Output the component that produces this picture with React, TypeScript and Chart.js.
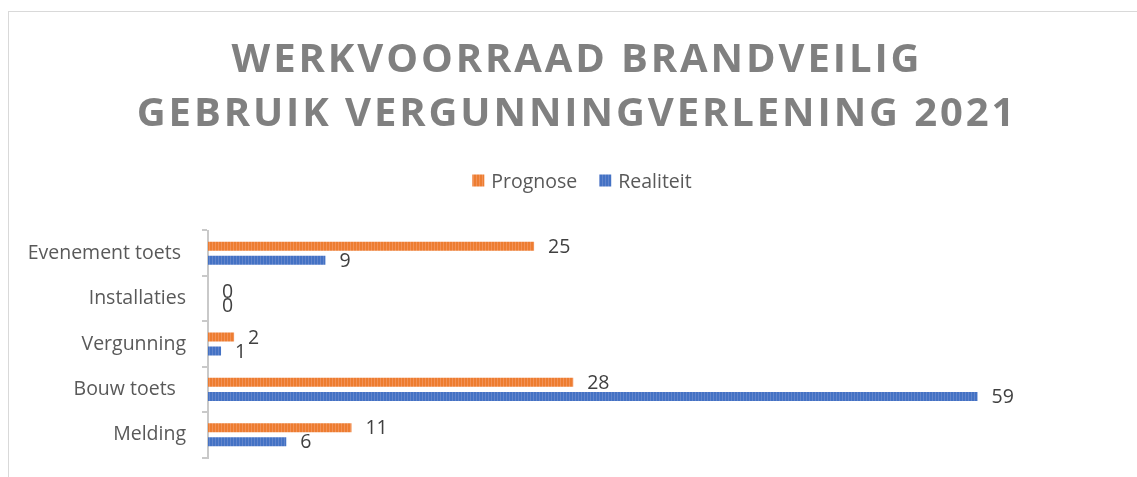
import React, { useEffect, useRef } from 'react';
import { Chart, registerables } from 'chart.js';

Chart.register(...registerables);

// ---- data ----
const titleLines = ['WERKVOORRAAD BRANDVEILIG', 'GEBRUIK VERGUNNINGVERLENING 2021'];
const categories = ['Evenement toets ', 'Installaties', 'Vergunning', 'Bouw toets  ', 'Melding'];
const seriesNames = ['Prognose', 'Realiteit'];
const prognose = [25, 0, 2, 28, 11];
const realiteit = [9, 0, 1, 59, 6];
const valueMin = 0;
const valueMax = 70;

// ---- styles ----
const FONT = '"Open Sans", "DejaVu Sans", sans-serif';
const ORANGE = '#ED7D31';
const ORANGE_LIGHT = '#F29258';
const BLUE = '#4472C4';
const BLUE_LIGHT = '#6285CC';

function makeStripe(base: string, light: string): CanvasPattern | string {
  const c = document.createElement('canvas');
  c.width = 3;
  c.height = 4;
  const g = c.getContext('2d');
  if (!g) return base;
  g.fillStyle = base;
  g.fillRect(0, 0, 3, 4);
  g.fillStyle = light;
  g.fillRect(2, 0, 1, 4);
  const p = g.createPattern(c, 'repeat');
  return p || base;
}

const headerPlugin = {
  id: 'headerAndLegend',
  afterDraw(chart: any) {
    const ctx: CanvasRenderingContext2D = chart.ctx;
    ctx.save();
    // title
    ctx.font = `bold 40px ${FONT}`;
    ctx.fillStyle = '#808080';
    ctx.textAlign = 'center';
    ctx.textBaseline = 'alphabetic';
    const anyCtx = ctx as any;
    if ('letterSpacing' in anyCtx) anyCtx.letterSpacing = '2.9px';
    const baselines = [59.5, 114];
    titleLines.forEach((line, i) => {
      ctx.fillText(line, 568, baselines[i]);
    });
    if ('letterSpacing' in anyCtx) anyCtx.letterSpacing = '0px';

    // legend
    ctx.font = `19.5px ${FONT}`;
    ctx.textAlign = 'left';
    const box = 12;
    const gapBoxText = 7;
    const gapItems = 22;
    const ds = chart.data.datasets;
    const widths = ds.map((d: any) => ctx.measureText(d.label).width);
    let total = 0;
    widths.forEach((w: number, i: number) => {
      total += box + gapBoxText + w + (i < widths.length - 1 ? gapItems : 0);
    });
    let x = 573 - total / 2;
    const baseY = 175.5;
    ds.forEach((d: any, i: number) => {
      ctx.fillStyle = d.backgroundColor;
      ctx.fillRect(x, baseY - 13, box, box);
      x += box + gapBoxText;
      ctx.fillStyle = '#595959';
      ctx.fillText(d.label, x, baseY);
      x += widths[i] + gapItems;
    });
    ctx.restore();
  },
};

const valueLabelPlugin = {
  id: 'valueLabels',
  afterDatasetsDraw(chart: any) {
    const ctx: CanvasRenderingContext2D = chart.ctx;
    ctx.save();
    ctx.font = `19.5px ${FONT}`;
    ctx.fillStyle = '#404040';
    ctx.textAlign = 'left';
    ctx.textBaseline = 'middle';
    chart.data.datasets.forEach((d: any, di: number) => {
      const meta = chart.getDatasetMeta(di);
      meta.data.forEach((el: any, i: number) => {
        ctx.fillText(String(d.data[i]), el.x + 14, el.y + 1);
      });
    });
    ctx.restore();
  },
};

export default function App() {
  const ref = useRef<HTMLCanvasElement | null>(null);

  useEffect(() => {
    if (!ref.current) return;
    const chart = new Chart(ref.current, {
      type: 'bar',
      data: {
        labels: categories,
        datasets: [
          {
            label: seriesNames[0],
            data: prognose,
            backgroundColor: makeStripe(ORANGE, ORANGE_LIGHT) as any,
            categoryPercentage: 0.62,
            barPercentage: 0.64,
          },
          {
            label: seriesNames[1],
            data: realiteit,
            backgroundColor: makeStripe(BLUE, BLUE_LIGHT) as any,
            categoryPercentage: 0.62,
            barPercentage: 0.64,
          },
        ],
      },
      options: {
        indexAxis: 'y',
        animation: false,
        responsive: false,
        layout: { padding: { top: 218.5, right: 16, bottom: 19.5, left: 0 } },
        scales: {
          x: { min: valueMin, max: valueMax, display: false },
          y: {
            position: 'left',
            grid: {
              drawOnChartArea: false,
              drawTicks: true,
              tickLength: 6,
              color: '#c9c9c9',
              lineWidth: 2,
            },
            border: { display: true, color: '#c9c9c9', width: 2 },
            ticks: {
              padding: 16,
              color: '#595959',
              font: { family: FONT, size: 19.5 },
            },
            afterFit: (s: any) => {
              s.width = 199;
              s.paddingTop = 0;
              s.paddingBottom = 0;
            },
          },
        },
        plugins: {
          legend: { display: false },
          title: { display: false },
          tooltip: { enabled: false },
        },
      },
      plugins: [valueLabelPlugin, headerPlugin],
    });
    return () => chart.destroy();
  }, []);

  return (
    <div
      style={{
        position: 'fixed',
        left: 8,
        top: 11,
        width: 1200,
        height: 520,
        borderTop: '1px solid #d9d9d9',
        borderLeft: '1px solid #d9d9d9',
        background: '#fff',
      }}
    >
      <canvas ref={ref} width={1128} height={465} style={{ display: 'block' }} />
    </div>
  );
}
